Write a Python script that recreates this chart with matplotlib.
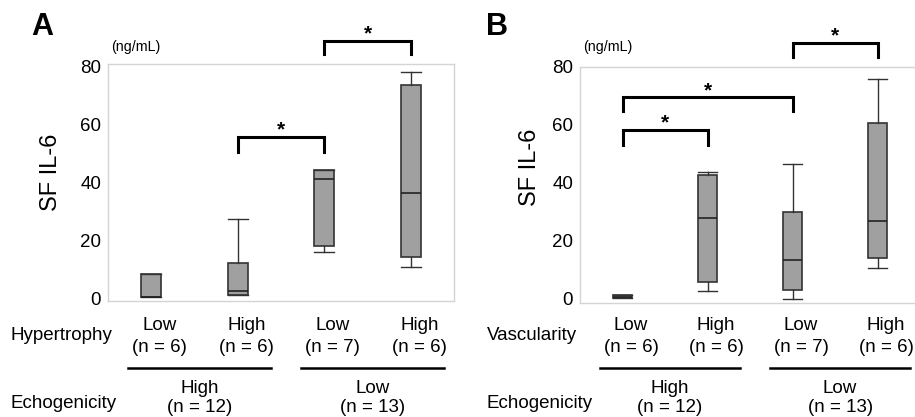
import matplotlib
matplotlib.use("Agg")
import matplotlib.pyplot as plt
from matplotlib import transforms
from matplotlib.lines import Line2D

plt.rcParams['font.family'] = ['Liberation Sans', 'DejaVu Sans']

# box statistics (ng/mL)
pos = [1, 2, 3, 4]

a_whislo = [0.5, 1.0, 16.1, 11.0]
a_q1 = [0.5, 1.0, 18.1, 14.4]
a_med = [0.5, 2.7, 41.1, 36.3]
a_q3 = [8.5, 12.2, 44.3, 73.7]
a_whishi = [8.5, 27.3, 44.3, 78.0]

b_whislo = [0.1, 2.6, 0.0, 10.5]
b_q1 = [0.1, 5.7, 3.0, 13.9]
b_med = [0.6, 27.8, 13.2, 26.7]
b_q3 = [1.1, 42.7, 29.8, 60.6]
b_whishi = [1.1, 43.6, 46.4, 75.7]

# significance brackets: (left box, right box, bracket top, leg bottom)
a_brackets = [(2, 3, 55.7, 50.6), (3, 4, 88.8, 84.2)]
b_brackets = [(1, 2, 58.1, 52.9), (1, 3, 69.4, 64.7), (3, 4, 88.2, 83.2)]

yticks = [0, 20, 40, 60, 80]
sub_names = ["Low", "High", "Low", "High"]
sub_n = ["(n = 6)", "(n = 6)", "(n = 7)", "(n = 6)"]
echo_names = ["High", "Low"]
echo_n = ["(n = 12)", "(n = 13)"]

W, H = 915, 417
fig = plt.figure(figsize=(W / 100, H / 100), dpi=100)


def fy(py):
    return 1 - py / H


def panel(rect, ylim, whislo, q1, med, q3, whishi, brackets, letter, letter_x,
          unit_x, ylab_x, ylab_y, factor_name, factor_x):
    ax = fig.add_axes(rect)
    stats = []
    for i in range(len(pos)):
        stats.append(dict(whislo=whislo[i], q1=q1[i], med=med[i], q3=q3[i],
                          whishi=whishi[i], fliers=[]))
    ax.bxp(stats, positions=pos, widths=0.23, capwidths=0.23, patch_artist=True,
           manage_ticks=False, showfliers=False,
           boxprops=dict(facecolor='#a0a0a0', edgecolor='#333333', linewidth=1.2),
           medianprops=dict(color='#222222', linewidth=1.2),
           whiskerprops=dict(color='#333333', linewidth=1.0),
           capprops=dict(color='#333333', linewidth=1.0))
    ax.set_xlim(0.5, 4.5)
    ax.set_ylim(*ylim)
    ax.set_xticks([])
    ax.set_yticks(yticks)
    ax.tick_params(axis='y', length=0, pad=5, labelsize=13.5)
    for s in ax.spines.values():
        s.set_color('#d4d4d4')
        s.set_linewidth(1.0)
    ax.set_ylabel("SF IL-6", fontsize=17)
    ax.yaxis.set_label_coords(ylab_x, ylab_y)

    for l, r, top, bot in brackets:
        ax.plot([l, l, r, r], [bot, top, top, bot], color='black', lw=2.2,
                clip_on=False, solid_joinstyle='miter')
        ax.annotate('*', xy=((l + r) / 2, top), xytext=(0, 1),
                    textcoords='offset points', ha='center', va='baseline',
                    fontsize=15, fontweight='bold', annotation_clip=False)

    fig.text(letter_x / W, fy(27), letter, fontsize=22, fontweight='bold',
             ha='left', va='center')
    fig.text(unit_x / W, fy(47), "(ng/mL)", fontsize=10.3, ha='center', va='center')

    tr = transforms.blended_transform_factory(ax.transData, fig.transFigure)
    fig.text(factor_x / W, fy(335.5), factor_name, fontsize=13.5, ha='left', va='center')
    fig.text(factor_x / W, fy(403.5), "Echogenicity", fontsize=13.5, ha='left', va='center')
    for i, p in enumerate(pos):
        ax.text(p + 0.1, fy(325), sub_names[i], transform=tr, fontsize=13.5,
                ha='center', va='center')
        ax.text(p + 0.1, fy(347), sub_n[i], transform=tr, fontsize=13.5,
                ha='center', va='center')
    for j in range(2):
        p0, p1 = pos[2 * j], pos[2 * j + 1]
        fig.add_artist(Line2D([p0 - 0.27, p1 + 0.38], [fy(367.7), fy(367.7)],
                              transform=tr, color='black', lw=1.8))
        ax.text((p0 + p1) / 2 + 0.06, fy(388.5), echo_names[j], transform=tr,
                fontsize=13.5, ha='center', va='center')
        ax.text((p0 + p1) / 2 + 0.06, fy(407.5), echo_n[j], transform=tr,
                fontsize=13.5, ha='center', va='center')
    return ax


panel([108 / W, fy(301), 346 / W, 236.7 / H], (-0.9, 80.8),
      a_whislo, a_q1, a_med, a_q3, a_whishi, a_brackets,
      "A", 31, 136, -0.133, 0.545, "Hypertrophy", 11)
panel([580 / W, fy(302.7), 340 / W, 236 / H], (-1.4, 80.0),
      b_whislo, b_q1, b_med, b_q3, b_whishi, b_brackets,
      "B", 486, 608, -0.115, 0.575, "Vascularity", 486.7)

fig.savefig("out.png", dpi=100)
